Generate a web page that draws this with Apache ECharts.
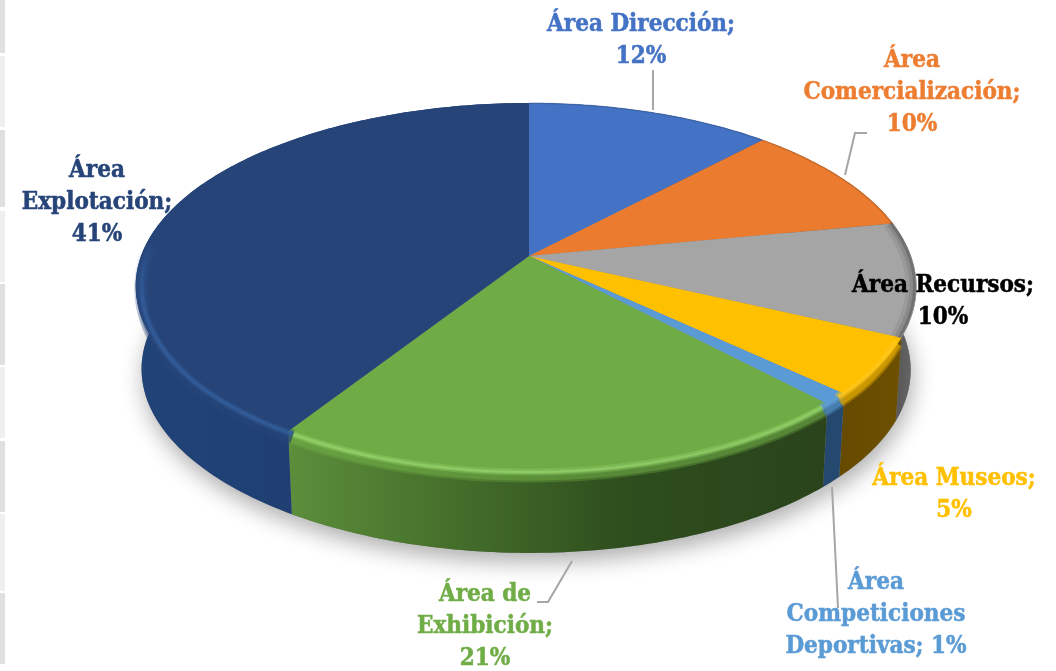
<!DOCTYPE html>
<html><head><meta charset="utf-8">
<style>html,body{margin:0;padding:0;background:#fff}#c{width:1056px;height:671px}</style>
<script src="https://cdn.jsdelivr.net/npm/echarts@6/dist/echarts.min.js"></script>
</head><body><div id="c"></div>
<script>
// --- data ---
const names = ['Área Dirección','Área Comercialización','Área Recursos','Área Museos','Área Competiciones Deportivas','Área de Exhibición','Área Explotación'];
const values = [12,10,10,5,1,21,41];
const labelLines = [['Área Dirección;','{v}'],['Área','Comercialización;','{v}'],['Área Recursos;','{v}'],['Área Museos;','{v}'],['Área','Competiciones','Deportivas; {v}'],['Área de','Exhibición;','{v}'],['Área','Explotación;','{v}']];

// --- styles / layout ---
const topColors = ['#4472c4','#ea7b2f','#a5a5a5','#ffc000','#5b9bd5','#6fac46','#264478'];
const textColors = ['#4472c4','#ed7d31','#000000','#ffc000','#5b9bd5','#70ad47','#264478'];
const bevelColors = ['#33558f','#a85a22','#4a4a4a','#ffc81e','#5f9fd8','#9ada6e','#33609f'];
const wallStops = [
 [[0,'#2b4a85'],[1,'#2b4a85']],[[0,'#8a4a1c'],[1,'#8a4a1c']],[[0,'#4f4f4f'],[1,'#6a6a6a']],
 [[0,'#664a00'],[1,'#6e5000']],[[0,'#25486e'],[1,'#25486e']],
 [[0,'#5c8e3b'],[0.3,'#456f2b'],[0.62,'#2e4e1e'],[1,'#2a431b']],
 [[0,'#204378'],[0.6,'#1f3d70'],[1,'#203a68']]
];
const labelPos = [[641,25],[912,61],[943,286],[954,479],[876,583],[485,595],[97,171]];
const lineHeight = 31.7;
const leaders = [[[653,70],[653,110]],[[867,133],[855,133],[845,175]],[[572,561],[548,602],[537,602]],[[832,487],[838,608]]];
const stripSpans = [[0,53,'#e0e0e0'],[56,127,'#efefef'],[130,207,'#e0e0e0'],[211,282,'#efefef'],[284,365,'#e0e0e0'],[367,438,'#efefef'],[441,512,'#e0e0e0'],[514,591,'#efefef'],[593,664,'#e0e0e0']];
const CX=529, CY=256, A=385, B=178.4, K=0.166, E=3, DEPTH=83, BASE_X=0.985;

// --- geometry from values ---
const total = values.reduce((a,b)=>a+b,0);
const starts = []; values.reduce((s,v,i)=>{starts[i]=s/total;return s+v;},0);
function rim(f,dy,r,sx){
  r=r||1; sx=sx||1;
  const t=2*Math.PI*f,u=r*Math.sin(t),v=-r*Math.cos(t),d=1-K*v;
  return [CX+(A*u/d-E*u*u)*sx, CY+B*v/d+(dy||0)];
}
function arc(i,dy,r,sx,taper){
  const f0=starts[i],f1=f0+values[i]/total,n=Math.max(4,Math.ceil((f1-f0)*360)),p=[];
  for(let j=0;j<=n;j++){
    const f=f0+(f1-f0)*j/n,v=-Math.cos(2*Math.PI*f);
    // the bevel offset shrinks to nothing at the sides of the disc so it stays inside the outline
    const off=taper?(dy||0)*Math.max(0,Math.min(1,v/0.6)):(dy||0);
    p.push(rim(f,off,r,sx));
  }
  return p;
}
const data = values.map((v,i)=>({name:names[i],value:v}));
function fade(color,i){ // navy bevel dies out towards the back of the disc
  if(i!==6) return color;
  return {type:'linear',x:0,y:0,x2:0,y2:1,colorStops:[{offset:0,color:'rgba(51,96,159,0)'},{offset:0.42,color:'rgba(51,96,159,0)'},{offset:0.62,color:color},{offset:1,color:color}]};
}
function bevel(i){
  if(i>=3){
    const stroke=fade(bevelColors[i],i), base=fade(topColors[i],i), r=0.985;
    const low=arc(i,9,r,1,true), mid=arc(i,6,r,1,true);
    return [[low,base,15,.35],[low,base,11,.45],[mid,stroke,7,.3],[mid,stroke,4,.45],[mid,stroke,2,.5]];
  }
  if(i===2){
    return [[arc(i,0,0.985),bevelColors[i],10,.12],[arc(i,0,0.99),bevelColors[i],6,.2],[arc(i,0,0.995),bevelColors[i],3,.4]];
  }
  return [[arc(i,0,0.998),bevelColors[i],1.5,.45]];
}

const option={
 animation:false,backgroundColor:'#fff',
 series:[
  {type:'custom',name:'shadow',coordinateSystem:'none',silent:true,data,
   renderItem(p){const i=p.dataIndex;
     return {type:'polygon',shape:{points:[[CX,CY+DEPTH]].concat(arc(i,DEPTH,1,BASE_X))},
       style:{fill:'#888',shadowBlur:22,shadowColor:'rgba(0,0,0,0.32)',shadowOffsetY:9,shadowOffsetX:2}};}},
  {type:'custom',name:'wall',coordinateSystem:'none',silent:true,data,
   renderItem(p){const i=p.dataIndex,a=arc(i,0),b=arc(i,DEPTH,1,BASE_X).reverse();
     return {type:'polygon',shape:{points:a.concat(b)},
       style:{fill:{type:'linear',x:0,y:0,x2:1,y2:0,colorStops:wallStops[i].map(s=>({offset:s[0],color:s[1]}))}}};}},
  {type:'custom',name:'top',coordinateSystem:'none',silent:true,data,
   renderItem(p){const i=p.dataIndex;
     return {type:'polygon',shape:{points:[[CX,CY]].concat(arc(i,0))},style:{fill:topColors[i]}};}},
  {type:'custom',name:'bevel',coordinateSystem:'none',silent:true,data,
   renderItem(p){const i=p.dataIndex;
     return {type:'group',children:bevel(i).map(b=>({type:'polyline',shape:{points:b[0]},
       style:{fill:null,stroke:b[1],lineWidth:b[2],opacity:b[3],lineCap:'butt'}}))};}}
 ],
 graphic:{elements:[
  ...stripSpans.map(s=>({type:'rect',silent:true,z:50,shape:{x:0,y:s[0],width:5,height:s[1]-s[0]},style:{fill:s[2]}})),
  ...leaders.map(l=>({type:'polyline',silent:true,z:60,shape:{points:l},style:{fill:null,stroke:'#a6a6a6',lineWidth:2}})),
  ...labelLines.flatMap((ls,i)=>ls.map((t,j)=>({type:'text',silent:true,z:70,x:labelPos[i][0],y:labelPos[i][1]+j*lineHeight,
     style:{text:t.replace('{v}',values[i]+'%'),fill:textColors[i],stroke:textColors[i],lineWidth:0.5,font:'bold 24px "DejaVu Serif Condensed","DejaVu Serif",serif',textAlign:'center',textVerticalAlign:'middle'}})))
 ]}
};
const chart=echarts.init(document.getElementById('c'),null,{renderer:'canvas'});
chart.setOption(option);
</script></body></html>
